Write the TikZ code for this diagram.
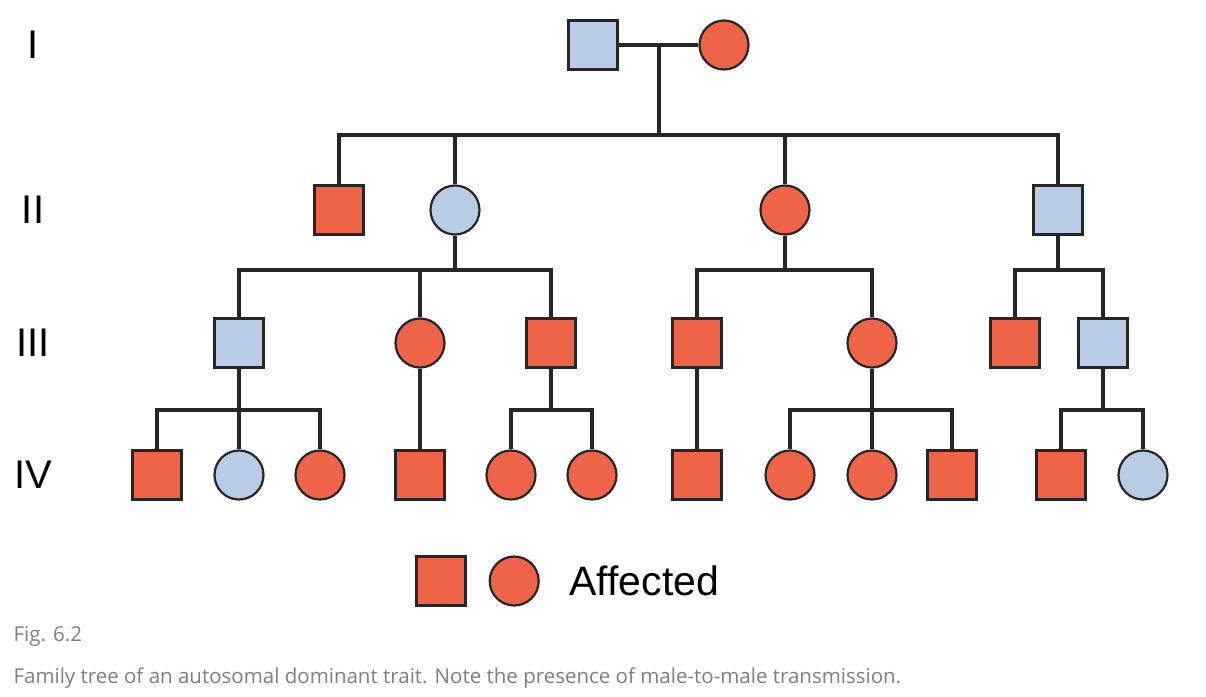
\documentclass[tikz,border=0pt]{standalone}
\usepackage{fontspec}
\setmainfont{Liberation Sans}
\newfontfamily\capfont{Open Sans}
\usetikzlibrary{positioning}
\definecolor{affred}{HTML}{EF6448}
\definecolor{unblue}{HTML}{B9CCE6}
\definecolor{capgray}{HTML}{7A7F88}
\tikzset{
	person/.style={draw=black!85, line width=2.2pt, minimum size=49pt, inner sep=0pt},
	male/.style={person, rectangle},
	female/.style={person, circle},
	aff/.style={fill=affred},
	unaff/.style={fill=unblue},
	line/.style={draw=black!85, line width=3.6pt},
	gen/.style={font=\fontsize{40}{40}\selectfont}
}
\begin{document}
\begin{tikzpicture}[x=1pt,y=-1pt]
	\useasboundingbox (0,0) rectangle (1206,696);
	%% generation labels
	\node[gen](g1) at (33,45){I};
	\node[gen](g2) at (33,210){II};
	\node[gen](g3) at (33,343){III};
	\node[gen](g4) at (33,475){IV};

	%% GENERATION I
	\node[male, unaff](m1) at (593,45){};
	\node[female, aff](f1) at (724,45){};
	\coordinate (mar1) at (659,45);
	\coordinate (sib1) at (659,135);

	%% GENERATION II
	\node[male, aff](m21) at (339,210){};
	\node[female, unaff](f22) at (455,210){};
	\node[female, aff](f23) at (785,210){};
	\node[male, unaff](m24) at (1058,210){};

	%% GENERATION III
	\node[male, unaff](m31) at (239,343){};
	\node[female, aff](f32) at (420,343){};
	\node[male, aff](m33) at (551,343){};
	\node[male, aff](m34) at (697,343){};
	\node[female, aff](f35) at (872,343){};
	\node[male, aff](m36) at (1015,343){};
	\node[male, unaff](m37) at (1103,343){};

	%% GENERATION IV
	\node[male, aff](m41) at (157,475){};
	\node[female, unaff](f42) at (239,475){};
	\node[female, aff](f43) at (320,475){};
	\node[male, aff](m44) at (420,475){};
	\node[female, aff](f45) at (511,475){};
	\node[female, aff](f46) at (592,475){};
	\node[male, aff](m47) at (697,475){};
	\node[female, aff](f48) at (790,475){};
	\node[female, aff](f49) at (872,475){};
	\node[male, aff](m410) at (952,475){};
	\node[male, aff](m411) at (1061,475){};
	\node[female, unaff](f412) at (1143,475){};

	%% lines I -> II
	\draw[line] (m1) -- (f1);
	\draw[line] (mar1) -- (sib1);
	\draw[line] (m21.north) |- (sib1) -| (m24.north);
	\draw[line] (f22.north) -- (f22.north |- sib1);
	\draw[line] (f23.north) -- (f23.north |- sib1);

	%% lines II -> III
	\draw[line] (f22.south) -- ++(0,36);
	\draw[line] (m31.north) -- (m31.north |- 0,270) -| (m33.north);
	\draw[line] (f32.north) -- (f32.north |- 0,270);
	\draw[line] (f23.south) -- ++(0,36);
	\draw[line] (m34.north) -- (m34.north |- 0,270) -| (f35.north);
	\draw[line] (m24.south) -- ++(0,36);
	\draw[line] (m36.north) -- (m36.north |- 0,270) -| (m37.north);

	%% lines III -> IV
	\draw[line] (m31.south) -- (f42.north);
	\draw[line] (m41.north) -- (m41.north |- 0,410) -| (f43.north);
	\draw[line] (f32.south) -- (m44.north);
	\draw[line] (m33.south) -- (m33.south |- 0,410);
	\draw[line] (f45.north) -- (f45.north |- 0,410) -| (f46.north);
	\draw[line] (m34.south) -- (m47.north);
	\draw[line] (f35.south) -- (f49.north);
	\draw[line] (f48.north) -- (f48.north |- 0,410) -| (m410.north);
	\draw[line] (m37.south) -- (m37.south |- 0,410);
	\draw[line] (m411.north) -- (m411.north |- 0,410) -| (f412.north);

	%% legend
	\node[male, aff](leg_m) at (441,581){};
	\node[female, aff, right=22pt of leg_m](leg_f){};
	\node[right=26pt of leg_f, font=\fontsize{41}{41}\selectfont](leg_txt){Affected};

	%% caption
	\node[anchor=west, text=capgray, font=\capfont\fontsize{20.5}{20.5}\selectfont](fig) at (10,636){Fig. 6.2};
	\node[anchor=west, text=capgray, font=\capfont\fontsize{20.5}{20.5}\selectfont](cap) at (10,678){Family tree of an autosomal dominant trait. Note the presence of male-to-male transmission.};
\end{tikzpicture}
\end{document}
